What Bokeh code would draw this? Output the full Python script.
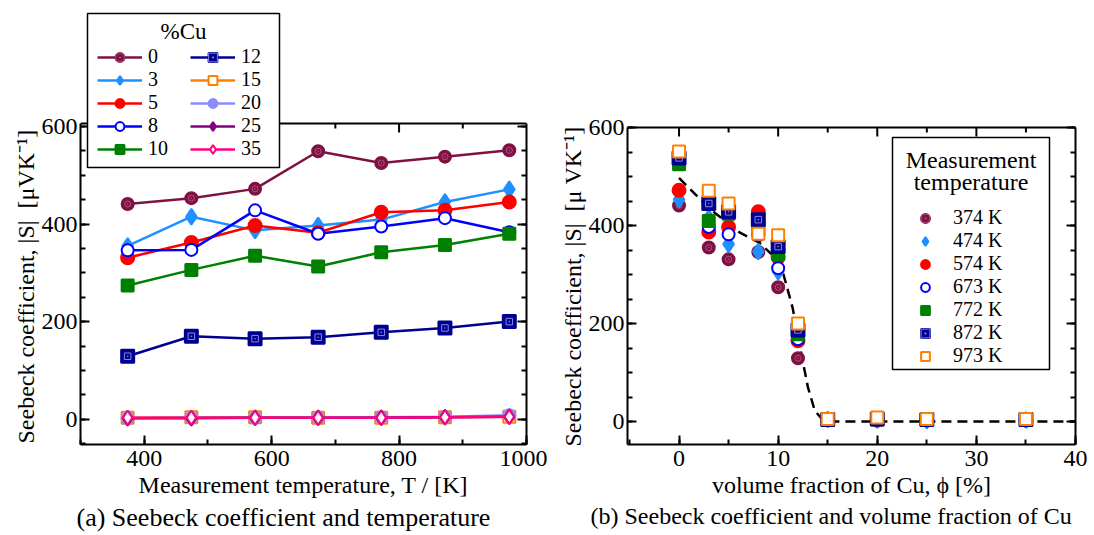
from bokeh.plotting import figure
from bokeh.models import (Range1d, LinearAxis, Label, Legend, LegendItem,
                          SingleIntervalTicker, Title, Span, BoxAnnotation)
from bokeh.layouts import row
from bokeh.embed import file_html
from bokeh.resources import INLINE

# ---------------- data ----------------
temps_K = [374, 474, 574, 673, 772, 872, 973]
temp_labels = ["374 K", "474 K", "574 K", "673 K", "772 K", "872 K", "973 K"]
cu_labels = ["0", "3", "5", "8", "10", "12", "15", "20", "25", "35"]
cu_phi = [0, 3, 5, 8, 10, 12, 15, 20, 25, 35]

S_cu0 = [441, 453, 472, 549, 525, 538, 551]
S_cu3 = [355, 415, 387, 397, 409, 445, 471]
S_cu5 = [331, 362, 397, 382, 424, 428, 445]
S_cu8 = [346, 347, 428, 380, 395, 412, 383]
S_cu10 = [274, 306, 335, 313, 342, 357, 380]
S_cu12 = [129, 170, 165, 168, 178, 187, 200]
S_cu15 = [3, 4, 4, 3, 3, 4, 5]
S_cu20 = [2, 3, 3, 3, 4, 5, 8]
S_cu25 = [2, 2, 3, 3, 3, 4, 5]
S_cu35 = [3, 3, 3, 3, 3, 4, 5]
S_by_cu = [S_cu0, S_cu3, S_cu5, S_cu8, S_cu10, S_cu12, S_cu15, S_cu20, S_cu25, S_cu35]

guide_phi = [0, 3.1, 6.1, 8.1, 10.2, 11.45, 12.2, 13.0, 13.7, 14.5, 15.4, 40]
guide_S = [497, 434, 386, 365, 325, 233, 152, 70, 22, 3, 0, 0]

# top-edge tick positions (mirror of the bottom axes)
top_major_a = [400, 600, 800]
top_minor_a = [500, 700, 900]
top_major_b = [0, 10, 20, 30]
top_minor_b = [5, 15, 25, 35]

FONT = "Liberation Serif"

# ---------------- styles ----------------
MAROON = "#7d1243"
cu_styles = [
    dict(color=MAROON, marker="circle", fill=MAROON, inner="circle_dot", inner_color="#b4507c", size=12),
    dict(color="#1e90ff", marker="diamond", fill="#1e90ff", size=16),
    dict(color="#ff0000", marker="circle", fill="#ff0000", size=13),
    dict(color="#0000ff", marker="circle", fill="white", size=12),
    dict(color="#008000", marker="square", fill="#008000", size=12),
    dict(color="#000090", marker="square", fill="#000090", inner="square_dot", inner_color="#8888dd", size=13),
    dict(color="#ff8000", marker="square", fill="white", size=12),
    dict(color="#8c8cff", marker="circle", fill="#8c8cff", size=12),
    dict(color="#800080", marker="diamond", fill="#800080", size=15),
    dict(color="#ff0080", marker="diamond", fill="white", size=14),
]
temp_styles = cu_styles[:7]


def style_fig(p, xint, xminor, yint, yminor, ytop, xlabel, top_major, top_minor, px_per_unit):
    p.outline_line_color = None
    p.xgrid.grid_line_color = None
    p.ygrid.grid_line_color = None
    p.background_fill_color = "white"
    p.border_fill_color = "white"
    ybot = p.y_range.start
    bottom = p.below[0]
    left = p.left[0]
    bottom.ticker = SingleIntervalTicker(interval=xint, num_minor_ticks=xminor)
    left.ticker = SingleIntervalTicker(interval=yint, num_minor_ticks=yminor)
    left.bounds = (ybot, ytop)
    right = LinearAxis(ticker=SingleIntervalTicker(interval=yint, num_minor_ticks=yminor),
                       bounds=(ybot, ytop))
    p.add_layout(right, "right")
    for ax in [bottom, left, right]:
        ax.axis_line_width = 2
        ax.axis_line_color = "black"
        ax.major_tick_line_width = 2
        ax.minor_tick_line_width = 2
        ax.major_tick_in = 9
        ax.major_tick_out = 0
        ax.minor_tick_in = 5
        ax.minor_tick_out = 0
        ax.major_label_text_font = FONT
        ax.major_label_text_font_size = "24px"
        ax.major_label_text_color = "black"
    right.major_label_text_font_size = "1px"
    right.major_label_text_color = None
    right.major_label_standoff = 0
    bottom.major_label_standoff = 6
    left.major_label_standoff = 3
    bottom.axis_label = xlabel
    bottom.axis_label_text_font = FONT
    bottom.axis_label_text_font_size = "24px"
    bottom.axis_label_text_font_style = "normal"
    bottom.axis_label_text_color = "black"
    bottom.axis_label_standoff = 3
    # top edge of the box and its inward ticks
    p.add_layout(Span(location=ytop, dimension="width", line_color="black", line_width=2))
    p.segment(x0=top_major, x1=top_major, y0=[ytop] * len(top_major),
              y1=[ytop - 9 / px_per_unit] * len(top_major), line_color="black", line_width=2)
    p.segment(x0=top_minor, x1=top_minor, y0=[ytop] * len(top_minor),
              y1=[ytop - 5 / px_per_unit] * len(top_minor), line_color="black", line_width=2)


def add_series(p, xs, ys, st, with_line):
    rs = []
    if with_line:
        rs.append(p.line(xs, ys, line_color=st["color"], line_width=2.5))
    rs.append(p.scatter(xs, ys, marker=st["marker"], size=st["size"],
                        fill_color=st["fill"], line_color=st["color"], line_width=2))
    if st.get("inner"):
        rs.append(p.scatter(xs, ys, marker=st["inner"], size=st["size"] * 0.5,
                            fill_alpha=0, line_color=st["inner_color"], line_width=1))
    return rs


def title(p, side, text, offset, size="24px", standoff=0):
    p.add_layout(Title(text=text, align="left", offset=offset, standoff=standoff,
                       text_font=FONT, text_font_size=size, text_font_style="normal",
                       text_color="black"), side)


def legend_box(p, left, right, top, bottom):
    p.add_layout(BoxAnnotation(left=left, right=right, top=top, bottom=bottom,
                               left_units="screen", right_units="screen",
                               top_units="screen", bottom_units="screen",
                               fill_color="white", fill_alpha=1.0,
                               line_color="black", line_width=1.5, line_alpha=1.0))


def box_label(p, x, y, text, size):
    p.add_layout(Label(x=x, y=y, x_units="screen", y_units="screen", text=text,
                       text_font=FONT, text_font_size=size, text_align="center",
                       text_baseline="middle", text_color="black"))


def make_legend(items, location, size, glyph_width, label_standoff, label_width, ncols=1):
    return Legend(items=items, ncols=ncols, location=location,
                  label_text_font=FONT, label_text_font_size=size, label_text_color="black",
                  glyph_width=glyph_width, glyph_height=22, label_standoff=label_standoff,
                  label_width=label_width, spacing=0, padding=0, margin=0,
                  border_line_color=None, background_fill_alpha=0.0)


# ---------------- panel (a) ----------------
pa = figure(width=547, height=535, x_range=Range1d(300, 1000), y_range=Range1d(-51.8, 841.6),
            output_backend="svg", toolbar_location=None,
            min_border_left=80, min_border_right=21, min_border_top=8, min_border_bottom=91)
style_fig(pa, 200, 2, 200, 4, 606, "Measurement temperature, T / [K]",
          top_major_a, top_minor_a, 0.488)
title(pa, "left", "Seebeck coefficient, |S|\u2002[μVK⁻¹]", 1)

items_a = []
for name, S, st in zip(cu_labels, S_by_cu, cu_styles):
    rs = add_series(pa, temps_K, S, st, True)
    items_a.append(LegendItem(label=name, renderers=rs))

legend_box(pa, 7, 199, 431, 277)
pa.add_layout(make_legend(items_a, (17, 284), "20px", 45, 6, 42, ncols=2))
box_label(pa, 103, 413, "%Cu", "23px")
title(pa, "below", "(a) Seebeck coefficient and temperature", -4, size="26px", standoff=0)

# ---------------- panel (b) ----------------
pb = figure(width=547, height=535, x_range=Range1d(-5.2, 40), y_range=Range1d(-46.9, 842.9),
            output_backend="svg", toolbar_location=None,
            min_border_left=80, min_border_right=19, min_border_top=8, min_border_bottom=91)
style_fig(pb, 10, 2, 200, 4, 600, "volume fraction of Cu, ϕ [%]",
          top_major_b, top_minor_b, 0.49)
title(pb, "left", "Seebeck coefficient, |S|\u2002[μ VK⁻¹]", -2)

pb.line(guide_phi, guide_S, line_color="black", line_width=2.5, line_dash="10 6")

items_b = []
for ti, (tl, st) in enumerate(zip(temp_labels, temp_styles)):
    ys = [S[ti] for S in S_by_cu]
    rs = add_series(pb, cu_phi, ys, st, False)
    items_b.append(LegendItem(label=tl, renderers=rs))

legend_box(pb, 265, 422, 307, 75)
pb.add_layout(make_legend(items_b, (273, 77), "20px", 50, 3, 88))
box_label(pb, 343.5, 285, "Measurement", "24px")
box_label(pb, 343.5, 263, "temperature", "24px")
title(pb, "below", "(b) Seebeck coefficient and volume fraction of Cu", -37, size="24px", standoff=0)

layout = row(pa, pb)
open("out.html", "w").write(file_html(layout, INLINE))
